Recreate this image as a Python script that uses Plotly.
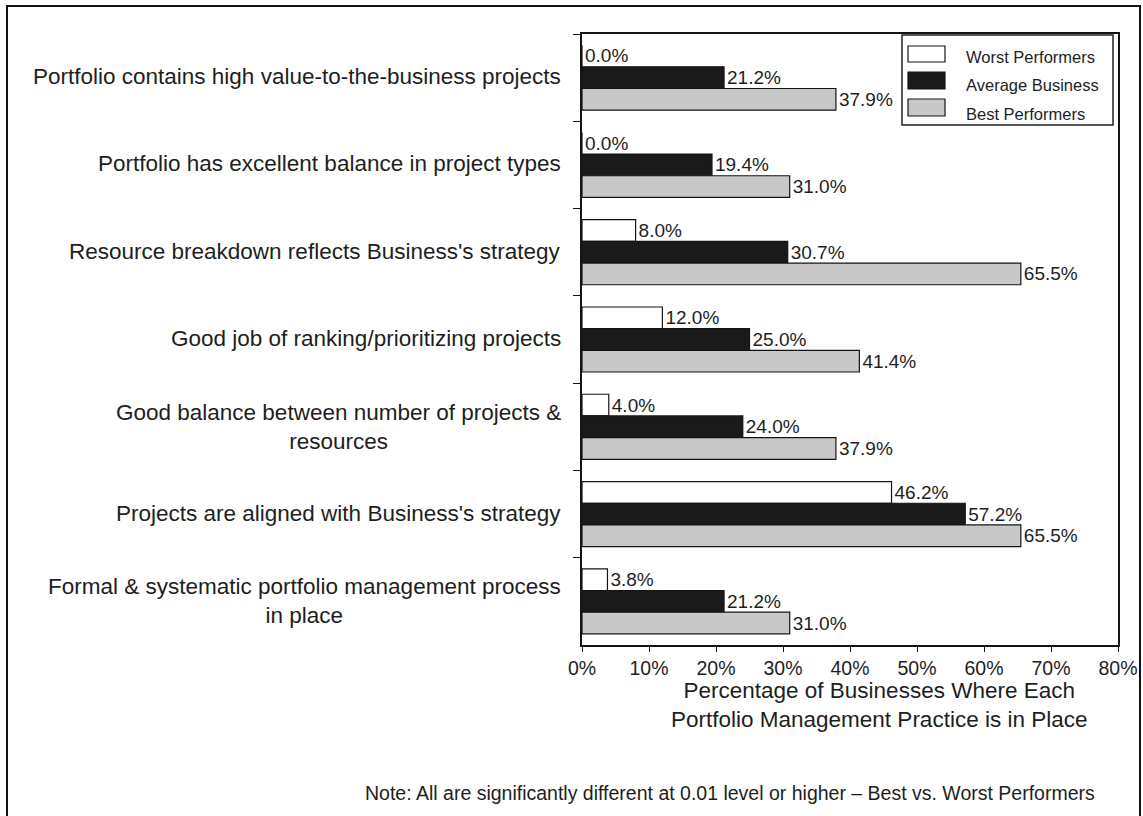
import plotly.graph_objects as go

categories = [
    "Portfolio contains high value-to-the-business projects",
    "Portfolio has excellent balance in project types",
    "Resource breakdown reflects Business's strategy",
    "Good job of ranking/prioritizing projects",
    "Good balance between number of projects &<br>resources",
    "Projects are aligned with Business's strategy",
    "Formal & systematic portfolio management process<br>in place",
]
worst = [0.0, 0.0, 8.0, 12.0, 4.0, 46.2, 3.8]
average = [21.2, 19.4, 30.7, 25.0, 24.0, 57.2, 21.2]
best = [37.9, 31.0, 65.5, 41.4, 37.9, 65.5, 31.0]
series_names = ["Worst Performers", "Average Business", "Best Performers"]
x_ticks = [0, 10, 20, 30, 40, 50, 60, 70, 80]

W, H = 1143, 816
L, R, T, B = 582, 1118, 34, 645
pw, ph = R - L, B - T

def px(x):
    return (x - L) / pw

def py(y):
    return (B - y) / ph

FONT = "Liberation Sans, Arial, sans-serif"
TXT = "#1e1e1e"
EDGE = "#141414"

fills = ["#ffffff", "#1a1a1a", "#c8c8c8"]
fig = go.Figure()
for name, vals, col in zip(series_names, [worst, average, best], fills):
    fig.add_trace(go.Bar(
        y=categories, x=vals, name=name, orientation="h",
        marker=dict(color=col, line=dict(color=EDGE, width=1.2)),
        text=[f"{v:.1f}%" for v in vals], textposition="outside",
        constraintext="none",
        textfont=dict(family=FONT, size=19, color=TXT),
        cliponaxis=False, showlegend=False,
    ))

# category labels (centred multi-line, right-aligned block)
for c in categories:
    fig.add_annotation(
        x=0, xref="paper", y=c, yref="y", text=c, showarrow=False,
        xanchor="right", align="center", xshift=-19,
        yshift=(0 if "<br>" in c else 1),
        font=dict(family=FONT, size=22.5, color=TXT),
    )

fig.add_annotation(
    x=px(879), y=py(676), xref="paper", yref="paper", xanchor="center", yanchor="top",
    text="Percentage of Businesses Where Each<br>Portfolio Management Practice is in Place",
    showarrow=False, align="center", font=dict(family=FONT, size=22.5, color=TXT),
)
fig.add_annotation(
    x=px(730), y=py(793), xref="paper", yref="paper", xanchor="center", yanchor="middle",
    text="Note: All are significantly different at 0.01 level or higher \u2013 Best vs. Worst Performers",
    showarrow=False, font=dict(family=FONT, size=19.5, color=TXT),
)

# outer frame
fig.add_shape(type="rect", xref="paper", yref="paper",
              x0=px(7), x1=px(1140), y0=py(840), y1=py(6),
              line=dict(color="#111111", width=2), fillcolor="rgba(0,0,0,0)", layer="below")

# legend box (drawn manually to match the reference's spacing)
fig.add_shape(type="rect", xref="paper", yref="paper",
              x0=px(902), x1=px(1113), y0=py(125), y1=py(35),
              line=dict(color="#222222", width=1.5), fillcolor="white", layer="above")
sw_rows = [(46, 62), (72, 89), (99, 116)]
txt_rows = [57, 85.5, 114]
for (ya, yb), ty, name, col in zip(sw_rows, txt_rows, series_names, fills):
    fig.add_shape(type="rect", xref="paper", yref="paper",
                  x0=px(908), x1=px(945), y0=py(yb), y1=py(ya),
                  line=dict(color=EDGE, width=1.2), fillcolor=col, layer="above")
    fig.add_annotation(x=px(964), y=py(ty), xref="paper", yref="paper",
                       xanchor="left", yanchor="middle", text=name, showarrow=False,
                       font=dict(family=FONT, size=16.5, color=TXT))

fig.update_layout(
    width=W, height=H,
    margin=dict(l=L, r=W - R, t=T, b=H - B, autoexpand=False),
    paper_bgcolor="white", plot_bgcolor="white",
    barmode="group", bargap=0.255, bargroupgap=0,
    showlegend=False,
    font=dict(family=FONT, color=TXT),
    xaxis=dict(range=[0, 80], tickvals=x_ticks, ticktext=[f"{t}%" for t in x_ticks],
               showgrid=False, zeroline=False, showline=True, linecolor=EDGE, linewidth=1.5,
               mirror=True, ticks="outside", ticklen=5, tickcolor=EDGE,
               ticklabeloverflow="allow",
               tickfont=dict(family=FONT, size=19.5, color=TXT)),
    yaxis=dict(autorange="reversed", showticklabels=False, showgrid=False, zeroline=False,
               showline=True, linecolor=EDGE, linewidth=1.5, mirror=True,
               ticks="outside", tickson="boundaries", ticklen=7, tickcolor=EDGE),
)

fig.write_html("out.html", config={"displayModeBar": False},
               post_script="document.body.style.margin='0';document.body.style.overflow='hidden';")
